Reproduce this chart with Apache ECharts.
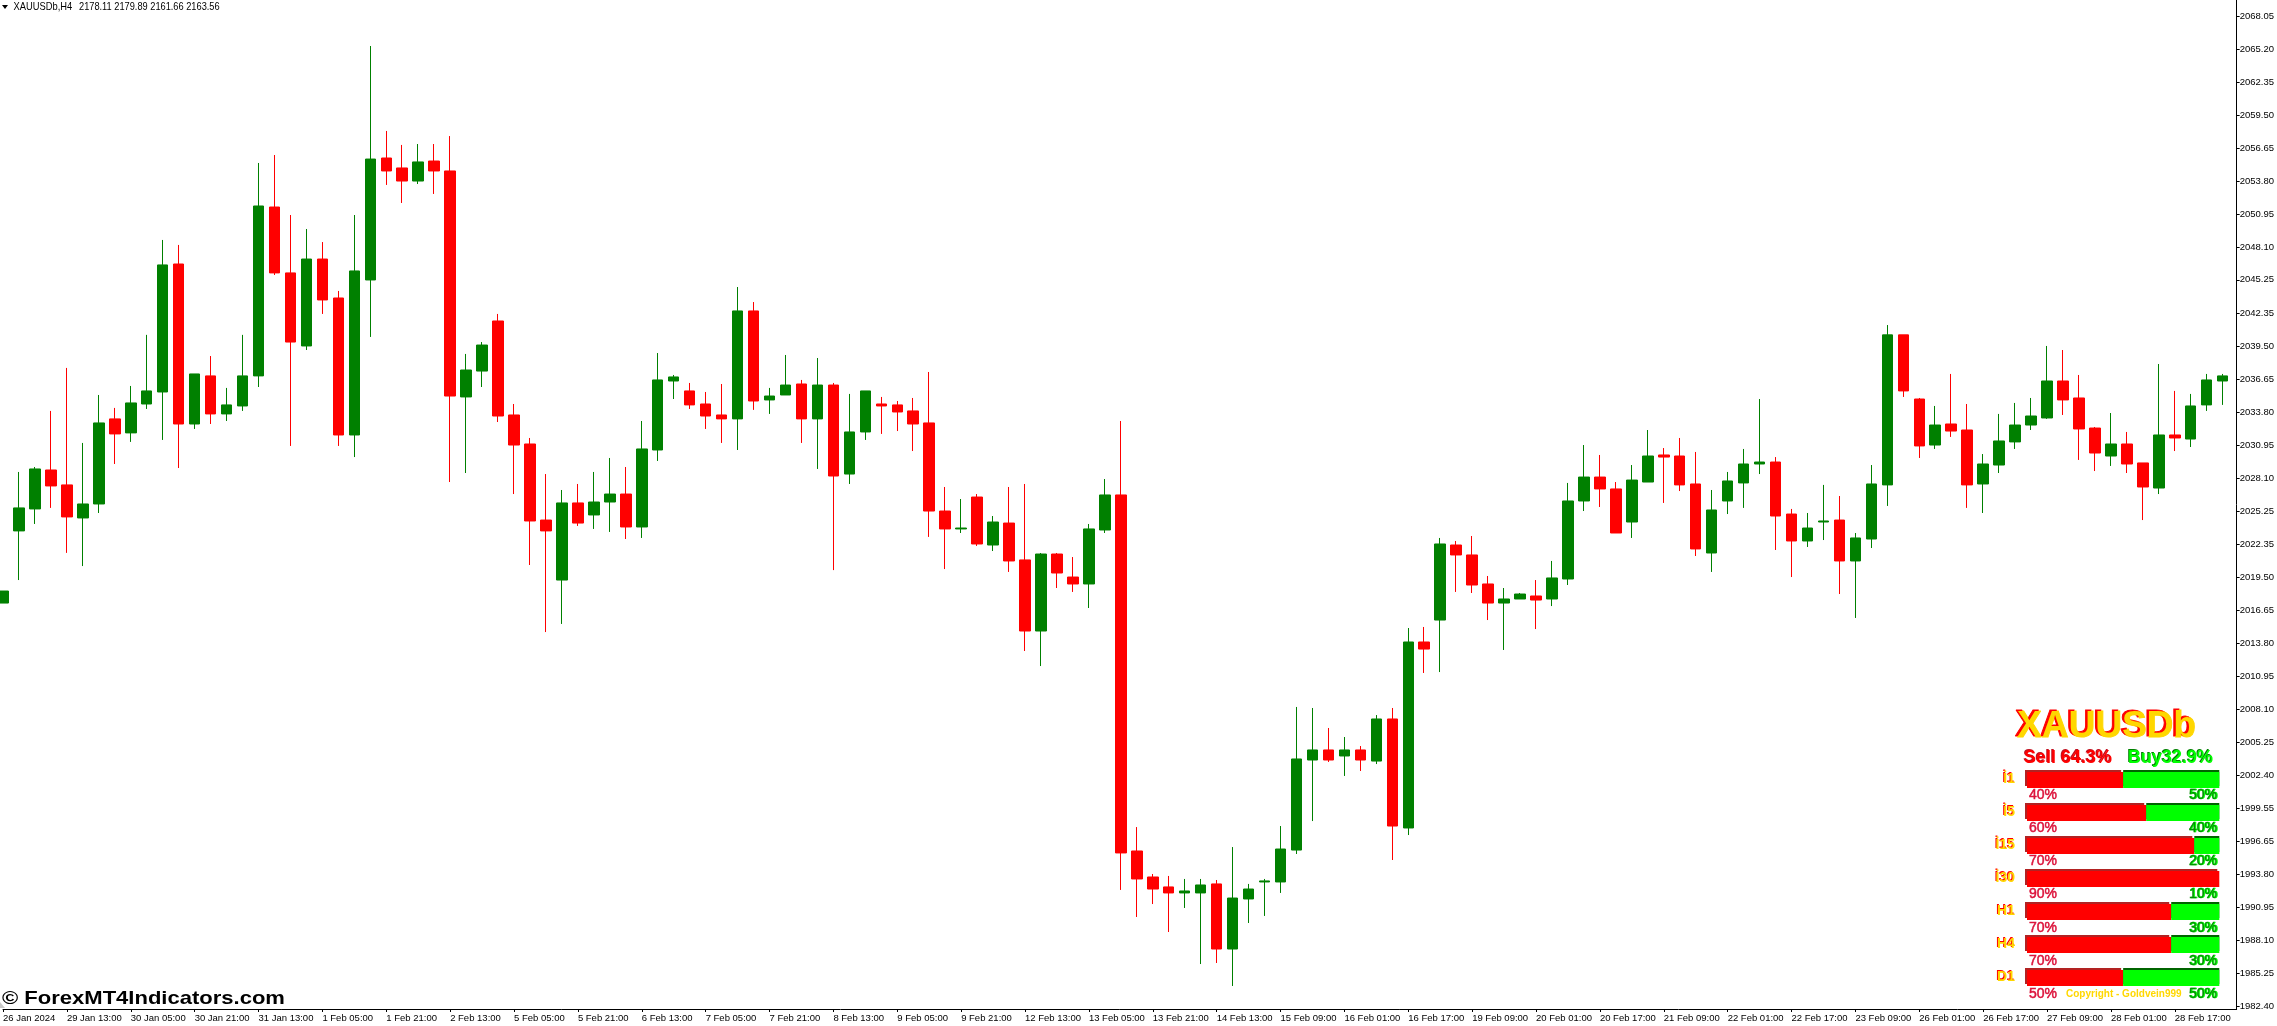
<!DOCTYPE html>
<html>
<head>
<meta charset="utf-8">
<style>html,body{margin:0;padding:0;background:#fff}#c{width:2277px;height:1026px}</style>
<script src="https://cdn.jsdelivr.net/npm/echarts@6/dist/echarts.min.js"></script>
</head>
<body>
<div id="c"></div>
<script>
const opens = [
2017.29,2023.53,2025.43,2028.80,2027.51,2024.65,2025.86,2033.22,2032.01,2034.51,
2035.55,2046.62,2032.78,2036.94,2033.65,2034.34,2036.94,2051.55,2045.85,2039.53,
2047.05,2043.68,2031.83,2045.24,2055.79,2054.93,2053.80,2055.53,2054.67,2035.12,
2037.36,2041.69,2033.56,2031.05,2024.47,2019.28,2025.95,2024.91,2026.03,2026.72,
2023.87,2030.53,2036.50,2035.64,2034.51,2033.56,2033.22,2042.56,2034.86,2035.29,
2036.24,2033.22,2036.15,2028.45,2032.09,2034.51,2034.43,2033.91,2032.87,2025.25,
2023.70,2026.46,2022.31,2024.21,2021.02,2014.87,2021.53,2019.54,2018.94,2023.61,
2026.64,1995.84,1993.59,1992.73,1992.21,1992.21,1992.99,1987.36,1991.69,1993.16,
1993.16,1995.92,2003.71,2004.58,2004.06,2004.58,2003.62,2007.26,1997.83,2013.92,
2015.82,2022.31,2021.45,2018.94,2017.29,2017.64,2017.90,2017.64,2019.37,2026.12,
2028.19,2027.16,2024.30,2027.76,2030.10,2030.01,2027.59,2021.62,2026.12,2027.68,
2029.32,2029.49,2024.99,2022.66,2024.30,2024.47,2020.93,2022.83,2027.51,2040.49,
2034.94,2030.96,2032.78,2032.26,2027.59,2029.23,2031.23,2032.69,2033.30,2036.50,
2035.03,2032.43,2030.01,2031.05,2029.41,2027.24,2031.83,2031.48,2034.43,2036.50];
const closes = [
2018.33,2025.52,2028.89,2027.42,2024.74,2025.86,2032.87,2031.92,2034.60,2035.64,
2046.54,2032.78,2037.11,2033.65,2034.43,2036.94,2051.64,2045.85,2039.87,2047.05,
2043.51,2031.83,2046.02,2055.70,2054.67,2053.80,2055.45,2054.67,2035.20,2037.45,
2039.61,2033.47,2030.96,2024.39,2023.53,2025.95,2024.21,2026.03,2026.72,2023.87,
2030.62,2036.59,2036.85,2034.43,2033.47,2033.22,2042.56,2034.77,2035.20,2036.15,
2033.22,2036.15,2028.28,2032.09,2035.64,2034.34,2033.82,2032.78,2025.25,2023.70,
2023.78,2022.40,2024.30,2020.93,2014.87,2021.53,2019.89,2018.94,2023.70,2026.64,
1995.67,1993.42,1992.55,1992.21,1992.38,1992.90,1987.36,1991.77,1992.55,1993.25,
1996.01,2003.80,2004.58,2003.71,2004.58,2003.71,2007.26,1998.00,2013.92,2013.31,
2022.40,2021.45,2018.85,2017.29,2017.64,2018.07,2017.55,2019.46,2026.12,2028.19,
2027.16,2023.35,2027.93,2030.01,2029.92,2027.51,2021.97,2025.34,2027.85,2029.32,
2029.49,2024.82,2022.66,2023.78,2024.39,2020.93,2022.92,2027.59,2040.49,2035.64,
2030.88,2032.69,2032.17,2027.51,2029.32,2031.31,2032.69,2033.47,2036.50,2034.86,
2032.35,2030.27,2031.05,2029.32,2027.33,2031.83,2031.57,2034.34,2036.59,2036.94];
const lows = [
2017.29,2019.28,2024.13,2025.52,2021.63,2020.49,2025.08,2029.32,2031.23,2034.08,
2031.40,2028.97,2032.35,2032.78,2033.04,2033.91,2035.98,2045.67,2030.88,2039.18,
2042.30,2030.88,2029.92,2040.31,2053.46,2051.90,2053.54,2052.68,2027.76,2028.54,
2035.98,2032.95,2026.72,2020.58,2014.78,2015.48,2023.96,2023.70,2023.44,2022.83,
2022.92,2029.58,2034.94,2034.08,2032.35,2031.14,2030.53,2034.00,2033.65,2035.29,
2031.14,2028.89,2020.14,2027.59,2031.40,2031.92,2032.17,2030.44,2023.01,2020.23,
2023.35,2022.23,2021.79,2019.98,2013.14,2011.84,2018.59,2018.25,2016.86,2023.35,
1992.47,1990.13,1991.25,1988.83,1990.91,1986.06,1986.15,1984.16,1989.61,1990.22,
1992.21,1995.58,1998.43,2003.54,2002.33,2002.76,2003.36,1995.06,1997.22,2011.24,
2011.32,2018.25,2018.16,2015.82,2013.23,2017.64,2015.04,2017.03,2018.85,2025.25,
2025.60,2023.35,2022.92,2027.76,2025.95,2026.98,2021.36,2019.98,2024.99,2025.52,
2028.45,2021.88,2019.54,2022.14,2022.74,2018.07,2016.00,2022.05,2025.69,2035.12,
2029.84,2030.62,2031.66,2025.52,2025.08,2028.54,2030.62,2032.26,2033.22,2033.56,
2029.67,2028.71,2029.15,2028.54,2024.47,2026.72,2030.44,2030.79,2033.91,2034.43];
const highs = [
2018.33,2028.63,2029.06,2033.91,2037.63,2031.14,2035.29,2034.17,2036.07,2040.49,
2048.70,2048.27,2037.11,2038.66,2035.90,2040.49,2055.36,2056.05,2050.86,2049.65,
2048.52,2044.29,2050.86,2065.48,2058.13,2056.92,2057.00,2057.00,2057.69,2038.84,
2039.87,2042.30,2034.51,2031.57,2028.45,2027.07,2027.59,2028.63,2029.84,2029.06,
2033.04,2038.92,2037.02,2036.33,2035.55,2036.24,2044.63,2043.33,2035.90,2038.75,
2036.59,2038.49,2036.33,2035.38,2035.64,2035.12,2034.77,2035.03,2037.28,2027.33,
2026.29,2026.72,2024.82,2027.33,2027.59,2021.62,2021.62,2021.27,2024.13,2028.02,
2033.04,1997.91,1993.85,1993.68,1993.42,1993.42,1993.33,1996.18,1992.99,1993.42,
1998.00,2008.30,2008.21,2006.48,2005.70,2004.92,2007.60,2008.21,2015.13,2015.22,
2022.92,2022.66,2023.09,2019.63,2018.59,2018.16,2019.28,2020.93,2027.68,2030.96,
2030.10,2027.76,2029.23,2032.26,2030.70,2031.57,2030.36,2027.07,2028.63,2030.62,
2034.94,2029.92,2025.43,2025.08,2027.51,2026.55,2023.35,2029.23,2041.34,2040.49,
2035.03,2034.34,2037.11,2034.51,2030.18,2033.65,2034.60,2035.03,2039.53,2039.18,
2037.02,2032.52,2033.73,2032.09,2029.41,2037.97,2035.64,2035.38,2037.11,2037.11];

const priceTicks = [2068.05,2065.20,2062.35,2059.50,2056.65,2053.80,2050.95,2048.10,2045.25,2042.35,
2039.50,2036.65,2033.80,2030.95,2028.10,2025.25,2022.35,2019.50,2016.65,2013.80,2010.95,2008.10,
2005.25,2002.40,1999.55,1996.65,1993.80,1990.95,1988.10,1985.25,1982.40];
const timeLabels = ['26 Jan 2024','29 Jan 13:00','30 Jan 05:00','30 Jan 21:00','31 Jan 13:00','1 Feb 05:00','1 Feb 21:00','2 Feb 13:00',
'5 Feb 05:00','5 Feb 21:00','6 Feb 13:00','7 Feb 05:00','7 Feb 21:00','8 Feb 13:00','9 Feb 05:00','9 Feb 21:00','12 Feb 13:00',
'13 Feb 05:00','13 Feb 21:00','14 Feb 13:00','15 Feb 09:00','16 Feb 01:00','16 Feb 17:00','19 Feb 09:00','20 Feb 01:00','20 Feb 17:00',
'21 Feb 09:00','22 Feb 01:00','22 Feb 17:00','23 Feb 09:00','26 Feb 01:00','26 Feb 17:00','27 Feb 09:00','28 Feb 01:00','28 Feb 17:00'];
const BARS_PER_LABEL = 4;

const frames = ['İ1','İ5','İ15','İ30','H1','H4','D1'];
const sellWidth = [50,62,87,100,75,75,50];
const buyWidth = [50,38,13,0,25,25,50];
const sellPct = [40,60,70,90,70,70,50];
const buyPct = [50,40,20,10,30,30,50];

const GREEN='#008000', RED='#ff0000', GOLD='#ffd700', LIME='#00ff00';
const SANS='"Liberation Sans",sans-serif';

const tickBars = timeLabels.map((_,i)=>i*BARS_PER_LABEL);
const candles = opens.map((o,i)=>[i,o,closes[i],lows[i],highs[i]]);

function shadow(color,dx,dy){return {textShadowColor:color,textShadowOffsetX:dx,textShadowOffsetY:dy,textShadowBlur:0.1};}
function txt(t,x,y,font,fill,style,el){
  return Object.assign({type:'text',x:x,y:y,silent:true,z:100,
    style:Object.assign({text:t,font:font,fill:fill,align:'left',verticalAlign:'middle'},style||{})},el||{});
}
const graphics=[
  {type:'polygon',silent:true,z:100,shape:{points:[[2,5],[8,5],[5,9]]},style:{fill:'#000'}},
  txt('XAUUSDb,H4',13.5,7,'11px '+SANS,'#000',null,{scaleX:0.85}),
  txt('2178.11 2179.89 2161.66 2163.56',79,7,'11px '+SANS,'#000',null,{scaleX:0.84}),
  {type:'polygon',silent:true,z:100,shape:{points:[[0,1002],[0,1008],[5,1008]]},style:{fill:'#c8c8c8'}},
  txt('© ForexMT4Indicators.com',2,998.5,'bold 18.5px '+SANS,'#000',null,{scaleX:1.19}),
  txt('XAUUSDb',2106.5,727,'bold 37px '+SANS,GOLD,Object.assign({align:'center',stroke:GOLD,lineWidth:1},shadow(RED,-2,-1))),
  txt('Sell 64.3%',2024,758,'bold 18px '+SANS,RED,shadow('#c01020',-1,-1)),
  txt('Buy32.9%',2128,758,'bold 18px '+SANS,LIME,shadow('#008000',-1,-1)),
  txt('Copyright - Goldvein999',2066,994.5,'bold 10px '+SANS,GOLD)
];
frames.forEach((f,i)=>{
  const y=779.5+33*i;
  graphics.push(txt(f,2015,y,'bold 14px '+SANS,GOLD,Object.assign({align:'right'},shadow(RED,-1,-1))));
  graphics.push(txt(sellPct[i]+'%',2029,795+33.2*i,'14px '+SANS,'#dc143c',{stroke:'#dc143c',lineWidth:0.5}));
  graphics.push(txt(buyPct[i]+'%',2217,795+33.2*i,'14px '+SANS,'#009000',Object.assign({align:'right',stroke:'#009000',lineWidth:0.5},shadow(LIME,1,0))));
});

const chart=echarts.init(document.getElementById('c'),null,{renderer:'canvas',width:2277,height:1026});
chart.setOption({
  animation:false,
  backgroundColor:'#ffffff',
  grid:[
    {left:-0.5,right:39.5,top:0,bottom:17,containLabel:false},
    {left:2027,top:763.5,width:192.3,height:231,containLabel:false}
  ],
  xAxis:[
    {type:'value',gridIndex:0,min:0,max:139.875,splitLine:{show:false},
     axisLine:{show:true,onZero:false,lineStyle:{color:'#000',width:1}},
     axisTick:{show:true,length:3,inside:false,lineStyle:{color:'#000'},customValues:tickBars},
     axisLabel:{show:true,customValues:tickBars,align:'left',margin:4,fontSize:9.5,fontFamily:SANS,color:'#000',
       showMinLabel:true,showMaxLabel:true,hideOverlap:false,
       formatter:v=>timeLabels[tickBars.indexOf(v)]||''}},
    {type:'value',gridIndex:1,min:0,max:100,show:false}
  ],
  yAxis:[
    {type:'value',gridIndex:0,position:'right',min:1982.17,max:2069.46,scale:true,splitLine:{show:false},
     axisLine:{show:true,onZero:false,lineStyle:{color:'#000',width:1}},
     axisTick:{show:true,length:3,lineStyle:{color:'#000'},customValues:priceTicks},
     axisLabel:{show:true,customValues:priceTicks,margin:3,fontSize:9.5,fontFamily:SANS,color:'#000',
       hideOverlap:false,formatter:v=>v.toFixed(2)}},
    {type:'category',gridIndex:1,inverse:true,data:frames,show:false}
  ],
  series:[
    {type:'candlestick',xAxisIndex:0,yAxisIndex:0,barWidth:11,clip:true,
     encode:{x:0,y:[1,2,3,4]},data:candles,
     itemStyle:{color:GREEN,color0:RED,borderColor:GREEN,borderColor0:RED,borderWidth:1}},
    {type:'bar',xAxisIndex:1,yAxisIndex:1,stack:'p',barWidth:16,data:sellWidth,silent:true,
     itemStyle:{color:RED,shadowColor:'#b22222',shadowOffsetX:-2,shadowOffsetY:-2,shadowBlur:0}},
    {type:'bar',xAxisIndex:1,yAxisIndex:1,stack:'p',barWidth:16,data:buyWidth,silent:true,
     itemStyle:{color:LIME,shadowColor:'#006400',shadowOffsetX:0,shadowOffsetY:-2,shadowBlur:0}}
  ],
  graphic:{elements:graphics}
});
</script>
</body>
</html>
